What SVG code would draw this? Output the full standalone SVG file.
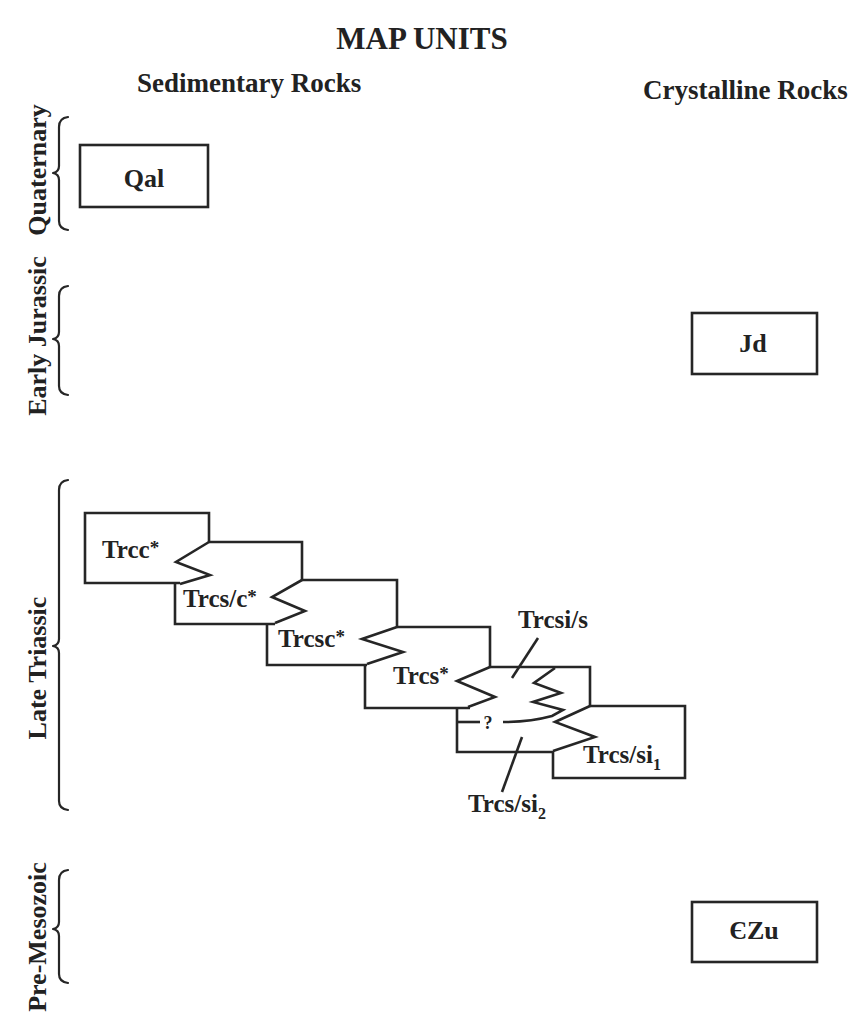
<svg xmlns="http://www.w3.org/2000/svg" width="853" height="1026" viewBox="0 0 853 1026">
<style>
.ln{fill:none;stroke:#262626;stroke-width:2.6;stroke-linejoin:miter;stroke-linecap:butt}
.br{fill:none;stroke:#262626;stroke-width:2.2;stroke-linejoin:round;stroke-linecap:round}
text{font-family:"Liberation Serif","Times New Roman",serif;font-weight:bold;fill:#222}
.h{font-size:27px}
.t{font-size:31px}
.u{font-size:26px;text-anchor:middle}
.lb{font-size:25px}
.per{font-size:26px;text-anchor:middle}
.st{font-size:19px}
.sub{font-size:16px}
</style>
<rect width="853" height="1026" fill="#ffffff"/>
<g id="title"><text class="t" x="422" y="49" text-anchor="middle">MAP UNITS</text></g>
<g id="col-sedimentary"><text class="h" x="137" y="92">Sedimentary Rocks</text></g>
<g id="col-crystalline"><text class="h" x="643" y="99">Crystalline Rocks</text></g>

<g id="period-quaternary">
<path class="br" d="M68,117 Q59,118 59,127 L59,166 Q59,172 53,173 Q59,174 59,180 L59,221 Q59,229 68,230"/>
<text class="per" transform="translate(46,170) rotate(-90)">Quaternary</text>
</g>
<g id="period-early-jurassic">
<path class="br" d="M68,286 Q59,287 59,296 L59,332 Q59,338 53,339 Q59,340 59,346 L59,386 Q59,394 68,395"/>
<text class="per" transform="translate(46,336) rotate(-90)">Early Jurassic</text>
</g>
<g id="period-late-triassic">
<path class="br" d="M68,480 Q59,481 59,490 L59,639 Q59,645 53,646 Q59,647 59,653 L59,801 Q59,809 68,810"/>
<text class="per" transform="translate(46,668) rotate(-90)">Late Triassic</text>
</g>
<g id="period-pre-mesozoic">
<path class="br" d="M68,870 Q59,871 59,880 L59,922 Q59,928 53,929 Q59,930 59,936 L59,974 Q59,982 68,983"/>
<text class="per" transform="translate(46,937) rotate(-90)">Pre-Mesozoic</text>
</g>

<g id="unit-Qal">
<rect class="ln" x="80" y="145" width="128" height="62"/>
<text class="u" x="144" y="187">Qal</text>
</g>
<g id="unit-Jd">
<rect class="ln" x="692" y="313" width="125" height="61"/>
<text class="u" x="753" y="352">Jd</text>
</g>
<g id="unit-CZu">
<rect class="ln" x="692" y="902" width="125" height="60"/>
<text class="u" x="754" y="939">ЄZu</text>
</g>

<g id="unit-Trcc">
<path class="ln" d="M209,542 L209,513 L85,513 L85,583 L180,583"/>
<path class="ln" d="M209,542 L176,562 L210,575 L180,584"/>
<text class="lb" x="102" y="558">Trcc<tspan class="st" dy="-4">*</tspan></text>
</g>
<g id="unit-Trcs-c">
<path class="ln" d="M209,542 L302,542 L302,580"/>
<path class="ln" d="M175,583 L175,624 L275,624"/>
<path class="ln" d="M302,580 L272,597 L305,611 L275,623"/>
<text class="lb" x="183" y="607">Trcs/c<tspan class="st" dy="-4">*</tspan></text>
</g>
<g id="unit-Trcsc">
<path class="ln" d="M302,580 L397,580 L397,627"/>
<path class="ln" d="M267,624 L267,665 L367,665"/>
<path class="ln" d="M397,627 L362,639 L403,652 L367,664"/>
<text class="lb" x="278" y="647">Trcsc<tspan class="st" dy="-4">*</tspan></text>
</g>
<g id="unit-Trcs">
<path class="ln" d="M397,627 L490,627 L490,667"/>
<path class="ln" d="M365,665 L365,708 L470,708"/>
<path class="ln" d="M490,667 L457,681 L495,697 L468,707"/>
<text class="lb" x="393" y="684">Trcs<tspan class="st" dy="-4">*</tspan></text>
</g>
<g id="unit-Trcsi-s">
<path class="ln" d="M490,667 L590,667 L590,706"/>
<path class="ln" d="M555,668 L534,683 L561,693 L533,702 L563,710 L552,716 Q530,722 503,722"/>
<text class="lb" x="518" y="628">Trcsi/s</text>
</g>
<g id="unit-Trcs-si1">
<path class="ln" d="M590,706 L685,706 L685,778 L553,778 L553,751"/>
<path class="ln" d="M590,706 L555,722 L595,737 L553,751"/>
<text class="lb" x="583" y="763">Trcs/si<tspan class="sub" dy="7">1</tspan></text>
</g>
<g id="unit-Trcs-si2">
<path class="ln" d="M457,707 L457,752 L553,752"/>
<path class="ln" d="M457,722 L480,722"/>
<text x="488" y="729" font-size="18" text-anchor="middle">?</text>
<text class="lb" x="468" y="812">Trcs/si<tspan class="sub" dy="7">2</tspan></text>
</g>

<g id="connectors">
<path class="ln" d="M538,638 L512,678"/>
<path class="ln" d="M522,737 L502,792"/>
</g>
</svg>
